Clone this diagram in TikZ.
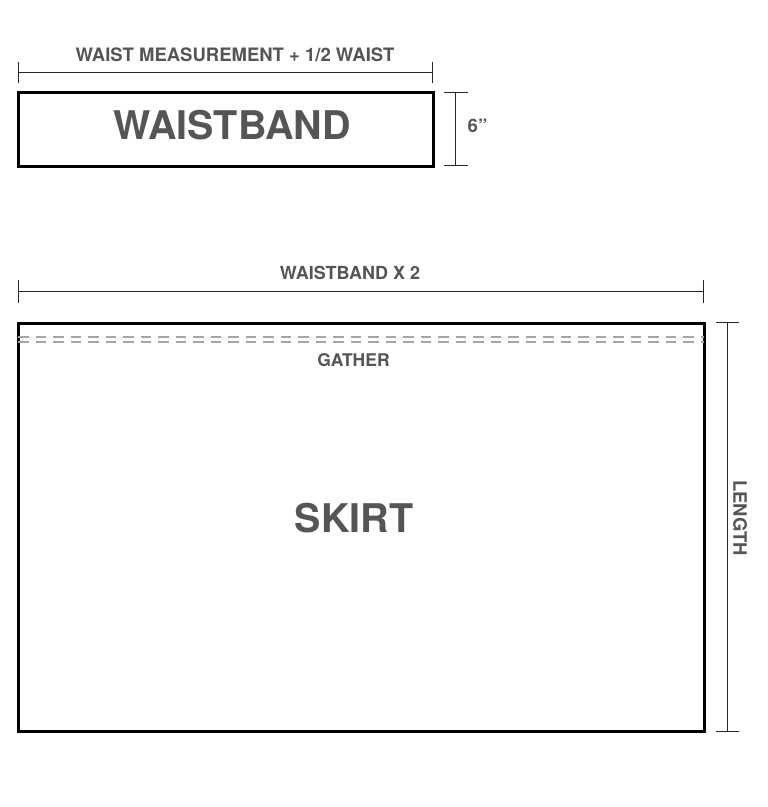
\documentclass[tikz,border=0pt]{standalone}
\usepackage{fontspec}
\setmainfont{TeX Gyre Heros}
\usetikzlibrary{arrows.meta}
\definecolor{labelgray}{RGB}{85,85,85}
\definecolor{seamgray}{RGB}{165,165,165}
\tikzset{
  piece/.style={draw=black, line width=3, inner sep=0pt},
  dimline/.style={draw=black!85, line width=1.4},
  dimlabel/.style={text=labelgray, font=\bfseries\fontsize{18.5}{20}\selectfont, inner sep=0pt},
  biglabel/.style={text=labelgray, font=\bfseries\fontsize{39.5}{42}\selectfont, inner sep=0pt},
  gatherline/.style={draw=seamgray, line width=1.7, dash pattern=on 10.5 off 7}
}
\begin{document}
\begin{tikzpicture}[x=1pt,y=1pt,yscale=-1,xscale=1]
\useasboundingbox (0,0) rectangle (768,807);

%Waistband piece
\node[piece, minimum width=415, minimum height=74] (band) at (225.5,129) {};
\node[biglabel] (bandtext) at (232,125.5) {WAISTBAND};

%Width of waistband
\coordinate (wl) at (18,72.5);
\coordinate (wr) at (433,72.5);
\draw[dimline, {Bar[width=21]}-{Bar[width=21]}] (wl) -- (wr);
\node[dimlabel] (waisttext) at (235,55) {WAIST MEASUREMENT + 1/2 WAIST};

%Height of waistband
\coordinate (ht) at (455.7,92);
\coordinate (hb) at (455.7,166);
\draw[dimline, {Bar[width=24]}-{Bar[width=24]}] (ht) -- (hb);
\node[dimlabel] (sixtext) at (477.5,126) {6”};

%Width of skirt
\coordinate (sl) at (18,291.5);
\coordinate (sr) at (704,291.5);
\draw[dimline, {Bar[width=23]}-{Bar[width=23]}] (sl) -- (sr);
\node[dimlabel, font=\bfseries\fontsize{18}{20}\selectfont] (twicetext) at (350,273) {WAISTBAND X 2};

%Skirt piece
\node[piece, minimum width=686, minimum height=408] (skirt) at (361,527) {};
\node[biglabel] (skirttext) at (354,518) {SKIRT};

%Gather stitching
\coordinate (ga) at (18,336.7);
\coordinate (gb) at (704,336.7);
\coordinate (gc) at (18,342.3);
\coordinate (gd) at (704,342.3);
\draw[gatherline] (ga) -- (gb);
\draw[gatherline] (gc) -- (gd);
\node[dimlabel, font=\bfseries\fontsize{17.5}{20}\selectfont] (gathertext) at (353.5,360) {GATHER};

%Length of skirt
\coordinate (lt) at (727.7,322);
\coordinate (lb) at (727.7,732);
\draw[dimline, {Bar[width=23]}-{Bar[width=23]}] (lt) -- (lb);
\node[dimlabel, rotate=-90] (lengthtext) at (740,518) {LENGTH};

\end{tikzpicture}
\end{document}
